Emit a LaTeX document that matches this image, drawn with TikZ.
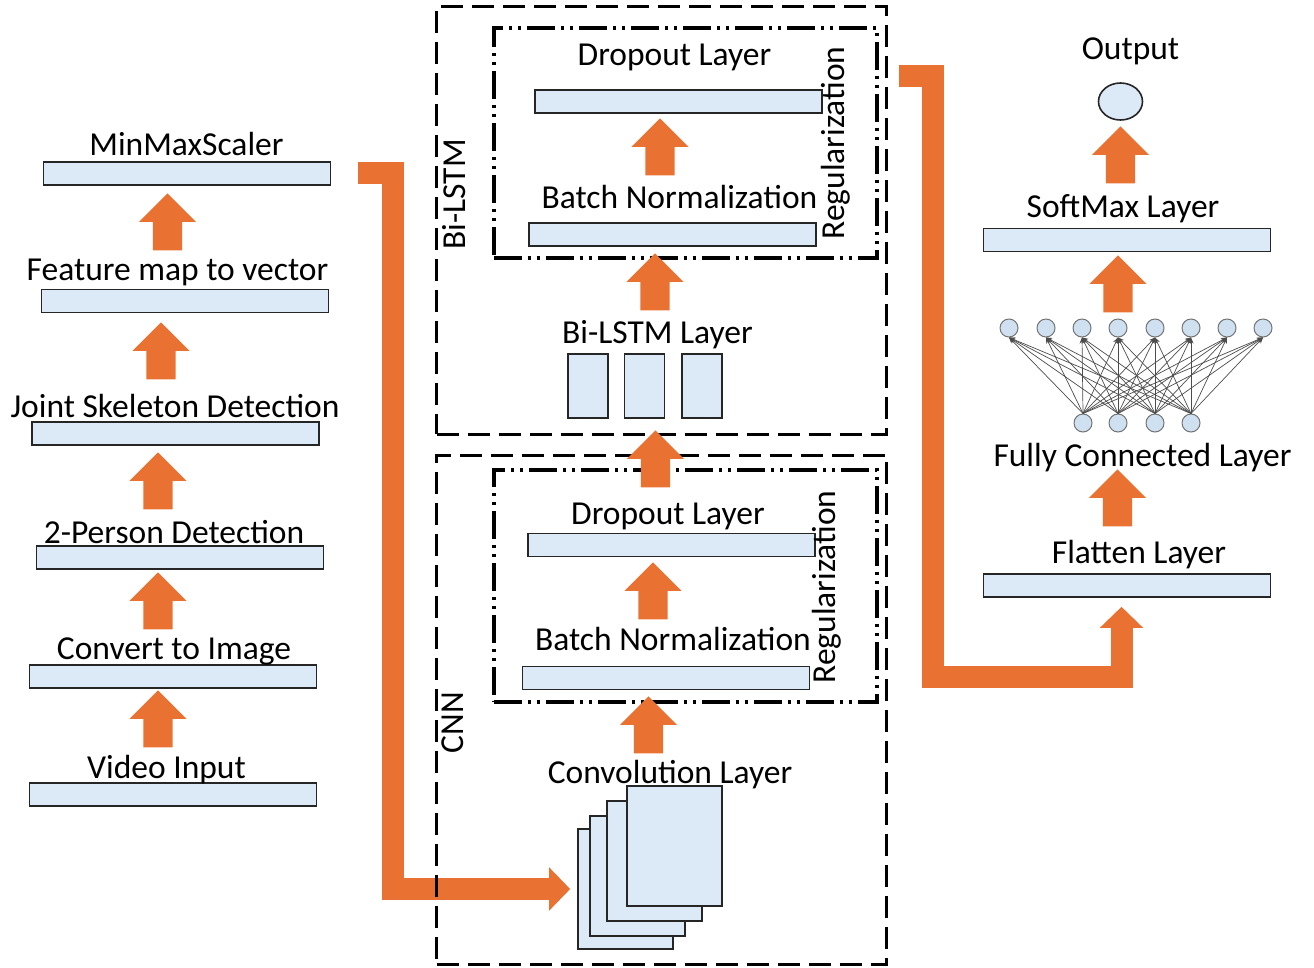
\documentclass[tikz,border=0pt]{standalone}
\usepackage{fontspec}
\setmainfont{Carlito}
\usetikzlibrary{arrows.meta,shapes.arrows,shapes.geometric,calc}

\definecolor{barblue}{RGB}{220,233,246}
\definecolor{cellblue}{RGB}{207,224,241}
\definecolor{flowor}{RGB}{233,114,51}

\tikzset{
	bar/.style={draw=black!85, line width=1.6pt, fill=barblue, minimum width=287pt, minimum height=23pt, inner sep=0pt},
	cell/.style={draw=black!85, line width=1.6pt, fill=barblue, minimum width=40pt, minimum height=64pt, inner sep=0pt},
	sheet/.style={draw=black!85, line width=1.6pt, fill=barblue, minimum width=95pt, minimum height=120pt, inner sep=0pt},
	lbl/.style={anchor=base, inner sep=0pt},
	blockup/.style={single arrow, fill=flowor, rotate=90, anchor=tip, inner xsep=0pt, inner ysep=14.5pt, minimum height=57pt, minimum width=57pt, single arrow head extend=14pt, single arrow tip angle=90},
	flow/.style={draw=flowor, line width=22pt, -{Triangle[width=42pt,length=21pt]}},
	dashbox/.style={draw, line width=3pt, dash pattern=on 22pt off 9pt, inner sep=0pt},
	regbox/.style={draw, line width=4pt, dash pattern=on 28pt off 6pt on 3pt off 6pt on 3pt off 6pt, inner sep=0pt},
	neuron/.style={circle, draw=black!55, line width=1pt, fill=cellblue, minimum size=18pt, inner sep=0pt},
	syn/.style={draw=black!70, line width=0.7pt, -{Stealth[length=6pt,width=5pt]}}
}

\begin{document}
\begin{tikzpicture}[x=1pt, y=-1pt, font=\fontsize{33.5}{40}\selectfont]
	\useasboundingbox (0,0) rectangle (1314,967);
%
	% preprocessing column
	\node[bar] (minmax) at (187,173.5) {};
	\node[bar] (feat) at (185,301) {};
	\node[bar] (joint) at (175.5,433.5) {};
	\node[bar] (person) at (180,557.5) {};
	\node[bar] (image) at (173,676.5) {};
	\node[bar] (video) at (173,794.5) {};
	\node[lbl] (minmaxT) at (186.5,155) {MinMaxScaler};
	\node[lbl] (featT) at (177.5,280) {Feature map to vector};
	\node[lbl] (jointT) at (175,417) {Joint Skeleton Detection};
	\node[lbl] (personT) at (174,543) {2-Person Detection};
	\node[lbl] (imageT) at (174,659) {Convert to Image};
	\node[lbl] (videoT) at (166.5,778) {Video Input};
%
	% CNN part
	\node[sheet] (page1) at (625.5,889) {};
	\node[sheet] (page2) at (637.5,876) {};
	\node[sheet] (page3) at (654.5,861) {};
	\node[sheet] (page4) at (674.5,846) {};
	\node[lbl] (convT) at (670,783) {Convolution Layer};
	\node[bar] (cnnbn) at (666,678) {};
	\node[lbl] (cnnbnT) at (673,650) {Batch Normalization};
	\node[bar] (cnndrop) at (671.5,545) {};
	\node[lbl] (cnndropT) at (668,524) {Dropout Layer};
	\node[lbl, rotate=90] (cnnregT) at (835,587) {Regularization};
	\node[lbl, rotate=90] (cnnT) at (463,722.5) {CNN};
%
	% Bi-LSTM part
	\node[cell] (cell1) at (588,386) {};
	\node[cell] (cell2) at (644.5,386) {};
	\node[cell] (cell3) at (702,386) {};
	\node[lbl] (lstmT) at (657.5,343) {Bi-LSTM Layer};
	\node[bar] (bibn) at (672.5,234.5) {};
	\node[lbl] (bibnT) at (679.5,208) {Batch Normalization};
	\node[bar] (bidrop) at (678.5,101.5) {};
	\node[lbl] (bidropT) at (674.5,65) {Dropout Layer};
	\node[lbl, rotate=90] (biregT) at (844,143) {Regularization};
	\node[lbl, rotate=90] (biT) at (465,194.5) {Bi-LSTM};
%
	% classifier column
	\node[bar] (flatten) at (1127,585.5) {};
	\node[lbl] (flattenT) at (1139,563) {Flatten Layer};
	\node[lbl] (fcT) at (1142.5,466) {Fully Connected Layer};
	\foreach \i/\x in {1/1009,2/1046,3/1082,4/1118,5/1155,6/1191,7/1227,8/1263}
		\node[neuron] (t\i) at (\x,328) {};
	\foreach \j/\x in {1/1083,2/1118,3/1155,4/1191}
		\node[neuron] (b\j) at (\x,423) {};
	\foreach \j in {1,...,4}
		\foreach \i in {1,...,8}
			\draw[syn] (b\j.north) -- (t\i.south);
	\node[bar] (softmax) at (1127,240) {};
	\node[lbl] (softmaxT) at (1123,217) {SoftMax Layer};
	\node[ellipse, draw=black!85, line width=1.6pt, fill=barblue, minimum width=44pt, minimum height=37pt] (out) at (1120.5,101.5) {};
	\node[lbl] (outT) at (1130.5,59) {Output};
%
	% features into the CNN
	\draw[flow] ($(minmax.east)+(27,-1)$) -- ++(34.5,0) |- ($(page1.west)+(-7,0)$);
%
	% dashed groups
	\node[dashbox, minimum width=450pt, minimum height=428pt] (bilstm) at (661.5,220) {};
	\node[dashbox, minimum width=450pt, minimum height=509pt] (cnn) at (661.5,709.5) {};
	\node[regbox, minimum width=383.5pt, minimum height=230pt] (bireg) at (685.25,143) {};
	\node[regbox, minimum width=383.5pt, minimum height=232pt] (cnnreg) at (685.25,586) {};
%
	% block arrows
	\node[blockup] (a1) at (167.5,193) {};
	\node[blockup] (a2) at (161,322) {};
	\node[blockup] (a3) at (158,452) {};
	\node[blockup] (a4) at (158,572) {};
	\node[blockup] (a5) at (158,690) {};
	\node[blockup] (m1) at (660,118) {};
	\node[blockup] (m2) at (655,253) {};
	\node[blockup] (m3) at (655.5,430) {};
	\node[blockup] (m4) at (653,562) {};
	\node[blockup] (m5) at (648.5,696) {};
	\node[blockup] (r1) at (1120.5,126) {};
	\node[blockup] (r2) at (1118,255) {};
	\node[blockup] (r3) at (1117.5,469) {};
%
	% Bi-LSTM output to the classifier
	\draw[flow] ($(bilstm.north east)+(10.5,71.5)$) -- ++(34,0) -- ++(0,601) -| ($(flatten.south)+(-5.5,9)$);
\end{tikzpicture}
\end{document}
